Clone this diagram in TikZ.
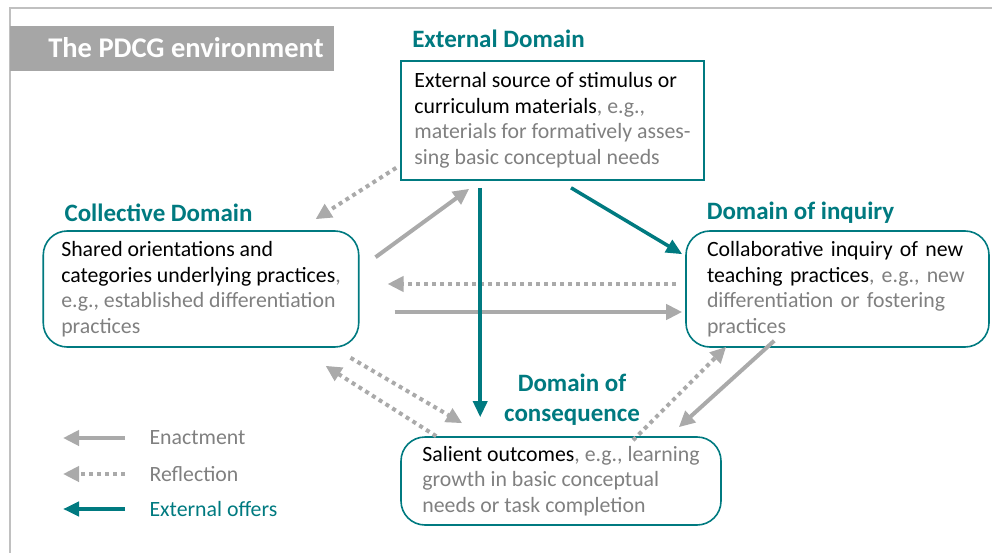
\documentclass[tikz,border=0pt]{standalone}
\usepackage{fontspec}
\setmainfont{Carlito}
\usepackage{xcolor}
\usetikzlibrary{arrows.meta}
\definecolor{domteal}{RGB}{0,122,128}
\definecolor{arrowgray}{RGB}{170,170,170}
\definecolor{notegray}{RGB}{128,128,128}
\definecolor{bannergray}{RGB}{166,166,166}
\definecolor{framegray}{RGB}{192,192,192}

\begin{document}
\begin{tikzpicture}[x=1pt, y=-1pt,
    body/.style={font=\fontsize{21.8}{25.5}\selectfont},
    dombox/.style={draw=domteal, line width=1.6pt, rounded corners=24pt, align=left, body, text=notegray, inner ysep=0pt},
    domtitle/.style={font=\fontsize{25}{30}\selectfont\bfseries, text=domteal, align=center},
    enact/.style={draw=arrowgray, line width=4pt, -{Triangle[length=16pt,width=15pt]}},
    reflect/.style={enact, dash pattern=on 4pt off 4pt},
    offer/.style={draw=domteal, line width=3.5pt, -{Triangle[length=16pt,width=14pt]}}]
    \useasboundingbox (0,0) rectangle (992,553);

    % Frame and banner
    \draw[framegray, line width=2pt] (10,553) -- (10,8) -- (992,8);
    \fill[bannergray] (10,26) rectangle (334,71);
    \node[font=\fontsize{28.5}{32}\selectfont\bfseries, text=white] (banner) at (186,48) {The PDCG environment};

    % Domains
    \node[domtitle] (extT) at (498.5,39) {External Domain};
    \node[dombox, rounded corners=0pt, minimum width=303, minimum height=119, inner xsep=12] (ext) at (552.5,120.5)
        {{\color{black}External source of stimulus or}\\{\color{black}curriculum materials}, e.g.,\\materials for formatively asses-\\sing basic conceptual needs};

    \node[domtitle] (collT) at (158.5,213) {Collective Domain};
    \node[dombox, minimum width=312, minimum height=116, inner xsep=18] (coll) at (201,289)
        {{\color{black}Shared orientations and}\\{\color{black}categories underlying practices},\\e.g., established differentiation\\practices};

    \node[domtitle] (inqT) at (800.5,213) {Domain of inquiry};
    \node[dombox, minimum width=303, minimum height=116, text width=261, inner xsep=21] (inq) at (837.5,289)
        {{\color{black}Collaborative inquiry of new}\\{\color{black}teaching practices}, e.g., new\\differentiation or fostering\\practices};

    \node[domtitle] (consT) at (572,400) {Domain of\\consequence};
    \node[dombox, minimum width=320, minimum height=88, inner xsep=20] (cons) at (561,481)
        {{\color{black}Salient outcomes}, e.g., learning\\growth in basic conceptual\\needs or task completion};

    % Enactment
    \draw[enact] ([shift={(16,27)}]coll.north east) -- ([shift={(69,8)}]ext.south west);
    \draw[enact] ([shift={(35,23)}]coll.east) -- ([shift={(-3,23)}]inq.west);
    \draw[enact] ([shift={(89,-7)}]inq.south west) -- ([shift={(-43,-9)}]cons.north east);

    % Reflection
    \draw[reflect] ([shift={(-4,-13)}]ext.south west) -- ([shift={(-44,-11)}]coll.north east);
    \draw[reflect] ([shift={(-9,-5)}]inq.west) -- ([shift={(28,-5)}]coll.east);
    \draw[reflect] ([shift={(-9,10)}]coll.south east) -- ([shift={(62,-13)}]cons.north west);
    \draw[reflect] ([shift={(36,0)}]cons.north west) -- ([shift={(-34,18)}]coll.south east);
    \draw[reflect] ([shift={(72,4)}]cons.north) -- ([shift={(41,-1)}]inq.south west);

    % External offers
    \draw[offer] ([shift={(80,7)}]ext.south west) -- ([shift={(80,-19)}]cons.north west);
    \draw[offer] ([shift={(18.5,7)}]ext.south) -- ([shift={(-3,24)}]inq.north west);

    % Legend
    \coordinate (enA) at (125,438);
    \coordinate (enB) at (63,438);
    \coordinate (reA) at (125,474);
    \coordinate (reB) at (63,474);
    \coordinate (ofA) at (125,509);
    \coordinate (ofB) at (63,509);
    \draw[enact] (enA) -- (enB);
    \draw[reflect] (reA) -- (reB);
    \draw[offer, line width=4pt] (ofA) -- (ofB);
    \node[body, text=notegray, anchor=west] (enL) at (146,438) {Enactment};
    \node[body, text=notegray, anchor=west] (reL) at (146,474) {Reflection};
    \node[body, text=domteal, anchor=west] (ofL) at (146,509) {External offers};

\end{tikzpicture}
\end{document}
